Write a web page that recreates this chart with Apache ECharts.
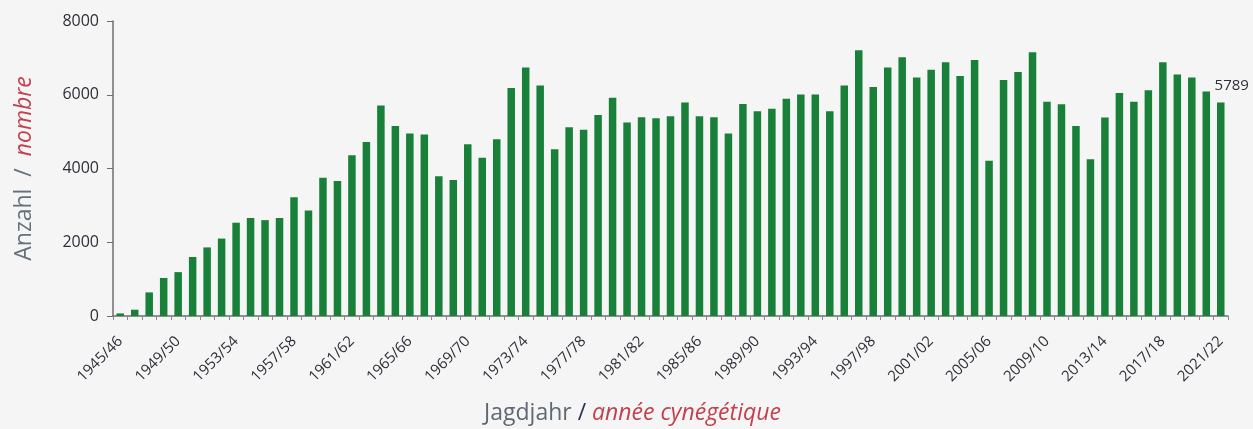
<!DOCTYPE html>
<html>
<head>
<meta charset="utf-8">
<script src="https://cdn.jsdelivr.net/npm/echarts@6/dist/echarts.min.js"></script>
<style>
  html, body { margin: 0; padding: 0; background: #f5f5f5; }
  #chart { width: 1253px; height: 429px; }
</style>
</head>
<body>
<div id="chart"></div>
<script>
const startYears = [];
for (let y = 1945; y <= 2021; y++) startYears.push(y);
const categories = startYears.map(y => y + '/' + String((y + 1) % 100).padStart(2, '0'));

const values = [
  70, 170, 640, 1030, 1190, 1600, 1860, 2100, 2530, 2660,
  2600, 2660, 3220, 2860, 3750, 3660, 4360, 4720, 5710, 5150,
  4950, 4920, 3790, 3690, 4660, 4290, 4790, 6180, 6740, 6250,
  4520, 5120, 5050, 5450, 5920, 5250, 5390, 5360, 5420, 5790,
  5420, 5390, 4950, 5750, 5550, 5620, 5890, 6010, 6010, 5550,
  6250, 7210, 6210, 6740, 7020, 6470, 6680, 6880, 6510, 6940,
  4210, 6400, 6620, 7150, 5810, 5740, 5150, 4250, 5380, 6050,
  5810, 6120, 6880, 6550, 6470, 6090, 5789
];

const yTicks = [0, 2000, 4000, 6000, 8000];
const yAxisName = ['Anzahl', 'nombre'];
const xAxisName = ['Jagdjahr', 'année cynégétique'];
const lastLabel = 5789;

const chart = echarts.init(document.getElementById('chart'));
const fontFam = '"Open Sans", "Noto Sans", sans-serif';

chart.setOption({
  backgroundColor: '#f5f5f5',
  animation: false,
  grid: { left: 113, right: 25, top: 21, bottom: 113, containLabel: false, outerBoundsMode: 'none' },
  xAxis: {
    type: 'category',
    data: categories,
    boundaryGap: true,
    axisLine: { lineStyle: { color: '#6e6e6e', width: 1.5 } },
    axisTick: { show: true, interval: 0, length: 4, lineStyle: { color: '#8a8a8a' } },
    axisLabel: {
      interval: 3,
      rotate: 45,
      margin: 23,
      fontSize: 15,
      color: '#2e2e38',
      fontFamily: fontFam
    },
    name: '{g|' + xAxisName[0] + ' }{s|/}{r| ' + xAxisName[1] + '}',
    nameLocation: 'middle',
    nameGap: 86,
    nameTextStyle: {
      padding: [0, 76, 0, 0],
      rich: {
        g: { fontSize: 23, color: '#5f6973', fontFamily: fontFam },
        s: { fontSize: 23, color: '#1f3550', fontFamily: fontFam },
        r: { fontSize: 23, color: '#c2414f', fontStyle: 'italic', fontFamily: fontFam }
      }
    }
  },
  yAxis: {
    type: 'value',
    min: yTicks[0],
    max: yTicks[yTicks.length - 1],
    interval: yTicks[1] - yTicks[0],
    splitLine: { show: false },
    axisLine: { show: true, lineStyle: { color: '#6e6e6e', width: 1.5 } },
    axisTick: { show: true, length: 6, lineStyle: { color: '#6e6e6e' } },
    axisLabel: {
      fontSize: 16,
      color: '#2e2e38',
      margin: 14,
      fontFamily: fontFam,
      formatter: v => String(v)
    },
    name: '{g|' + yAxisName[0] + '  /  }{r|' + yAxisName[1] + '}',
    nameLocation: 'middle',
    nameGap: 77,
    nameRotate: 90,
    nameTextStyle: {
      rich: {
        g: { fontSize: 23, color: '#66707a', fontFamily: fontFam },
        r: { fontSize: 23, color: '#c2414f', fontStyle: 'italic', fontFamily: fontFam }
      }
    }
  },
  series: [{
    type: 'bar',
    data: values.map((v, i) => i === values.length - 1
      ? { value: v, label: { show: true, position: 'top', offset: [11, -4], formatter: String(lastLabel), fontSize: 15, color: '#2e2e38', fontFamily: fontFam } }
      : v),
    barWidth: 7.5,
    itemStyle: { color: '#188038' }
  }]
});
</script>
</body>
</html>
